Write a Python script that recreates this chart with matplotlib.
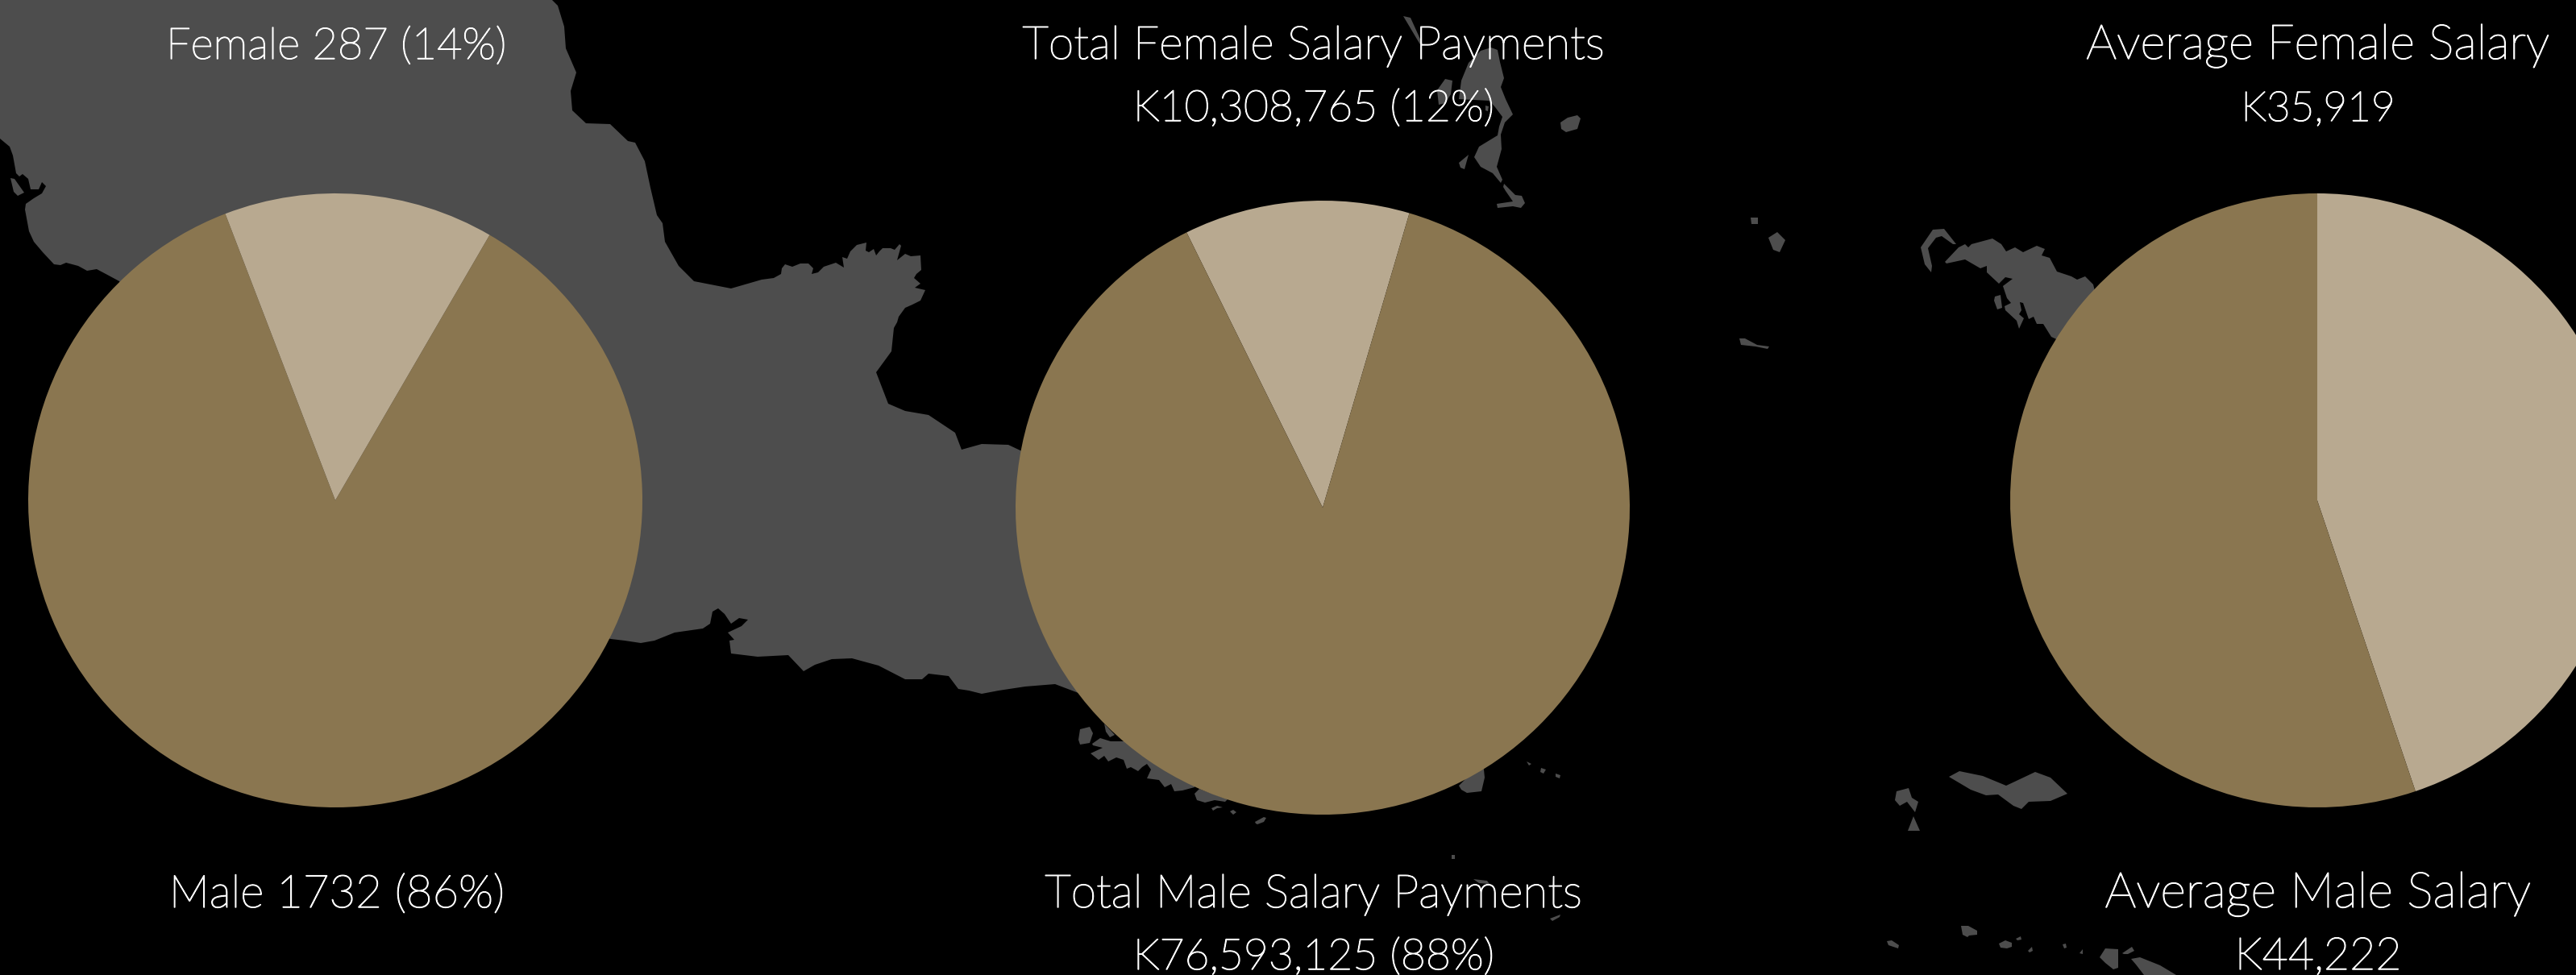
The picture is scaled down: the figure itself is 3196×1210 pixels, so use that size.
import matplotlib
matplotlib.use("Agg")
import matplotlib.pyplot as plt
import matplotlib.patheffects as pe
from matplotlib.patches import Polygon

W, H = 3196, 1210
BG = "#000000"
MAP_COL = "#4d4d4d"
MALE_COL = "#8a7650"
FEMALE_COL = "#b8a990"

# pie values
headcount = [287, 1732]
total_pay = [10308765, 76593125]
avg_salary = [35919, 44222]

labels_top = ["Female 287 (14%)", "Total Female Salary Payments", "K10,308,765 (12%)", "Average Female Salary", "K35,919"]
labels_bottom = ["Male 1732 (86%)", "Total Male Salary Payments", "K76,593,125 (88%)", "Average Male Salary", "K44,222"]

# map outline in picture pixels
mainland = [(0, 0), (685, 0), (692, 7), (700, 33), (702, 60), (715, 90), (708, 113), (710, 137), (727, 153),
            (757, 154), (779, 175), (788, 177), (800, 200), (807, 233), (815, 267), (822, 277), (825, 300),
            (842, 330), (861, 349), (907, 358), (945, 347), (960, 345), (969, 340), (970, 333), (974, 328),
            (983, 331), (993, 327), (1003, 327), (1009, 333), (1007, 340), (1015, 338), (1022, 331), (1028, 329),
            (1037, 326), (1047, 332), (1045, 319), (1051, 321), (1055, 312), (1063, 304), (1075, 301), (1074, 311),
            (1078, 313), (1084, 309), (1087, 317), (1091, 312), (1095, 308), (1105, 308), (1110, 310), (1116, 303),
            (1118, 305), (1113, 323), (1123, 315), (1130, 318), (1142, 317), (1143, 335), (1137, 340), (1134, 345),
            (1142, 352), (1135, 357), (1148, 360), (1142, 373), (1132, 378), (1123, 382), (1115, 393), (1113, 400),
            (1109, 407), (1106, 436), (1087, 462), (1102, 501), (1123, 510), (1152, 515),
            (1185, 537), (1193, 558), (1218, 551), (1251, 552), (1268, 560), (1500, 700), (1400, 850),
            (1338, 860), (1309, 849), (1272, 852), (1239, 857), (1218, 861), (1202, 857), (1189, 855),
            (1177, 839), (1152, 836), (1144, 843), (1123, 843), (1090, 826), (1057, 817), (1032, 818),
            (1011, 825), (997, 833), (978, 813), (940, 815), (907, 811), (905, 795), (911, 794), (903, 785),
            (920, 777), (928, 769), (917, 767), (907, 774), (899, 762), (891, 755), (884, 759), (881, 774),
            (872, 780), (837, 785), (812, 795), (795, 798), (775, 795), (758, 793), (400, 700), (148, 349),
            (135, 342), (120, 334), (108, 336), (97, 330), (82, 326), (75, 329), (67, 328), (53, 313), (42, 300),
            (36, 287), (31, 260), (32, 253), (42, 246), (52, 240), (57, 231), (52, 226), (48, 235), (38, 235),
            (35, 222), (28, 216), (24, 219), (20, 215), (16, 193), (12, 182), (0, 172)]
islands = [
    [(13, 221), (18, 222), (30, 239), (22, 243), (17, 238)],
    [(1741, 20), (1750, 22), (1765, 55), (1763, 57)],
    [(1850, 59), (1858, 62), (1861, 77), (1866, 97), (1862, 108), (1868, 123), (1877, 142), (1867, 152),
     (1862, 167), (1863, 185), (1857, 207), (1864, 223), (1862, 227), (1852, 215), (1837, 207), (1829, 195),
     (1835, 182), (1858, 168), (1860, 157), (1864, 145), (1855, 133), (1848, 125), (1810, 123), (1813, 100),
     (1822, 78), (1837, 63)],
    [(1783, 112), (1793, 98), (1802, 100), (1800, 117), (1793, 128), (1785, 130)],
    [(1843, 131), (1847, 132), (1846, 138), (1843, 137)],
    [(1810, 202), (1822, 192), (1817, 210), (1812, 208)],
    [(1866, 228), (1880, 242), (1888, 243), (1892, 252), (1887, 258), (1877, 256), (1858, 258), (1857, 253),
     (1877, 250), (1868, 237), (1865, 232)],
    [(1936, 152), (1945, 146), (1957, 143), (1961, 147), (1957, 160), (1943, 164), (1937, 160)],
    [(2172, 270), (2181, 270), (2181, 278), (2173, 278)],
    [(2194, 295), (2205, 288), (2215, 298), (2208, 313), (2200, 310)],
    [(2158, 420), (2165, 420), (2180, 428), (2195, 430), (2193, 433), (2178, 430), (2160, 428)],
    [(2383, 307), (2398, 285), (2412, 284), (2427, 303), (2423, 303), (2409, 293), (2402, 295), (2392, 308),
     (2397, 330), (2396, 338), (2388, 328)],
    [(2413, 325), (2430, 307), (2438, 303), (2442, 307), (2446, 303), (2472, 296), (2483, 303), (2489, 312),
     (2500, 307), (2510, 313), (2527, 305), (2537, 309), (2533, 317), (2543, 320), (2552, 337), (2570, 343),
     (2577, 347), (2587, 343), (2597, 353), (2600, 365), (2600, 410), (2560, 425), (2545, 418), (2535, 402),
     (2527, 402), (2523, 393), (2517, 396), (2510, 376), (2506, 375), (2508, 385), (2505, 390), (2511, 395),
     (2505, 408), (2502, 398), (2488, 385), (2487, 380), (2495, 376), (2490, 370), (2485, 355), (2497, 346),
     (2488, 344), (2480, 352), (2465, 338), (2465, 330), (2457, 333), (2438, 322), (2415, 327)],
    [(2475, 368), (2482, 366), (2484, 382), (2478, 384), (2474, 373)],
    [(2418, 964), (2431, 957), (2460, 963), (2489, 975), (2506, 967), (2525, 958), (2544, 965), (2565, 985),
     (2544, 994), (2517, 995), (2508, 1004), (2498, 1000), (2479, 986), (2464, 987), (2445, 980)],
    [(2351, 993), (2353, 982), (2368, 978), (2372, 990), (2380, 995), (2376, 1008), (2366, 995), (2357, 1000)],
    [(2374, 1013), (2382, 1031), (2367, 1031)],
    [(2341, 1168), (2347, 1167), (2356, 1173), (2355, 1177), (2343, 1173)],
    [(2433, 1149), (2442, 1149), (2453, 1155), (2453, 1160), (2443, 1161), (2441, 1163), (2435, 1160)],
    [(2480, 1171), (2488, 1167), (2496, 1170), (2496, 1175), (2490, 1177), (2482, 1176)],
    [(2501, 1165), (2507, 1162), (2508, 1166), (2503, 1167)],
    [(2516, 1180), (2521, 1175), (2522, 1180), (2518, 1182)],
    [(2559, 1172), (2563, 1171), (2564, 1176), (2561, 1177)],
    [(2580, 1183), (2584, 1178), (2584, 1184)],
    [(2605, 1188), (2612, 1177), (2628, 1178), (2628, 1201), (2622, 1203), (2612, 1195)],
    [(2633, 1183), (2645, 1175), (2648, 1180), (2640, 1184), (2635, 1184)],
    [(2644, 1190), (2655, 1188), (2680, 1198), (2700, 1210), (2660, 1210), (2650, 1197)],
    [(1340, 905), (1352, 902), (1356, 910), (1352, 922), (1340, 924), (1338, 918)],
    [(1370, 898), (1383, 912), (1377, 915), (1372, 908)],
    [(1355, 923), (1365, 916), (1378, 920), (1395, 920), (1440, 950), (1483, 970), (1482, 977), (1467, 981),
     (1457, 982), (1453, 973), (1445, 977), (1438, 968), (1423, 966), (1428, 955), (1423, 948), (1417, 952),
     (1412, 957), (1403, 952), (1398, 954), (1394, 943), (1385, 940), (1375, 945), (1370, 938), (1363, 943),
     (1353, 935), (1368, 928), (1356, 925)],
    [(1482, 985), (1488, 979), (1523, 992), (1520, 995), (1507, 993), (1495, 996), (1485, 993)],
    [(1503, 1003), (1510, 1000), (1517, 1002), (1510, 1003), (1505, 1006)],
    [(1526, 1007), (1530, 1005), (1534, 1008), (1530, 1011)],
    [(1557, 1020), (1568, 1014), (1571, 1015), (1568, 1020), (1560, 1023), (1558, 1022)],
    [(1810, 975), (1840, 945), (1842, 965), (1838, 982), (1820, 984), (1813, 980)],
    [(1894, 945), (1900, 948), (1897, 950)],
    [(1912, 953), (1918, 955), (1915, 960), (1911, 958)],
    [(1930, 960), (1936, 962), (1935, 966), (1930, 964)],
    [(1801, 1061), (1805, 1061), (1805, 1066), (1801, 1066)],
    [(1828, 1091), (1845, 1093), (1848, 1097), (1835, 1096)],
    [(1923, 1140), (1936, 1135), (1935, 1138), (1926, 1143)],
]

fig = plt.figure(figsize=(W / 100, H / 100), dpi=100, facecolor=BG)
ax = fig.add_axes([0, 0, 1, 1])
ax.set_facecolor(BG)

ax.add_patch(Polygon(mainland, closed=True, fc=MAP_COL, ec="none", zorder=1))
for isl in islands:
    ax.add_patch(Polygon(isl, closed=True, fc=MAP_COL, ec="none", zorder=1))

# y axis runs downwards here, so start angles are negative and wedges go clockwise on screen
pies = [(headcount, (416, 621), -111), (total_pay, (1641, 630), -116.3), (avg_salary, (2875, 621), -90)]
for vals, c, st in pies:
    w, _ = ax.pie(vals, colors=[FEMALE_COL, MALE_COL], center=c, radius=381, startangle=st,
                  frame=True, wedgeprops={"linewidth": 0})
    for p in w:
        p.set_zorder(2)

ax.set_xlim(0, W)
ax.set_ylim(H, 0)
ax.set_aspect("equal")
ax.axis("off")

stroke = [pe.withStroke(linewidth=1.0, foreground="white")]
font = dict(family="Lato", weight="light", color="white", ha="center", va="baseline", zorder=3, path_effects=stroke)
top_x = [417, 1630, 1630, 2876, 2876]
top_y = [73, 73, 150, 73, 150]
top_size = [39, 41, 38.5, 43, 37]
for x, y, s, line in zip(top_x, top_y, top_size, labels_top):
    ax.text(x, y, line, fontsize=s, **font)
bot_x = [418, 1630, 1630, 2876, 2876]
bot_y = [1126, 1126, 1203, 1126, 1203]
bot_size = [40.5, 41, 38.5, 44, 40]
for x, y, s, line in zip(bot_x, bot_y, bot_size, labels_bottom):
    ax.text(x, y, line, fontsize=s, **font)

fig.savefig("out.png", dpi=100, facecolor=BG)
